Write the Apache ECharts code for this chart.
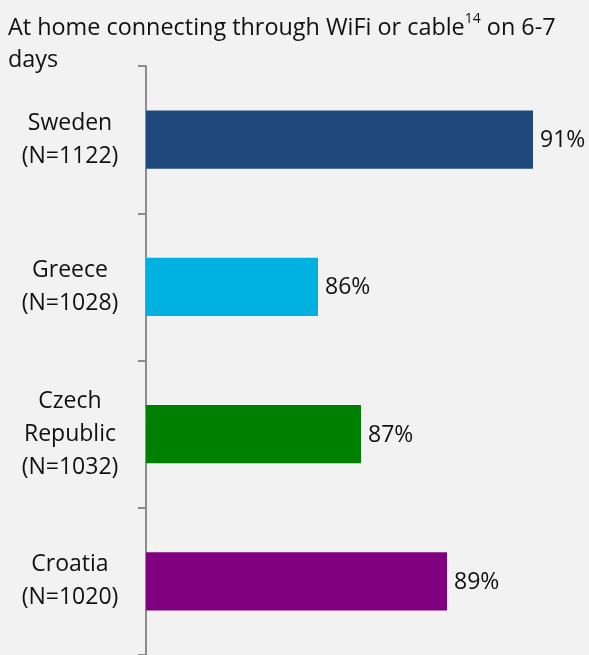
<!DOCTYPE html>
<html>
<head>
<meta charset="utf-8">
<script src="https://cdn.jsdelivr.net/npm/echarts@6/dist/echarts.min.js"></script>
<style>
html,body{margin:0;padding:0;background:#f2f2f2;}
#c{width:589px;height:655px;}
</style>
</head>
<body>
<div id="c"></div>
<script>
const categories = ['Sweden\n(N=1122)', 'Greece\n(N=1028)', 'Czech\nRepublic\n(N=1032)', 'Croatia\n(N=1020)'];
const values = [91, 86, 87, 89];
const colors = ['#1f497d', '#00b0e0', '#008000', '#800080'];

const FONT = 'Open Sans';
const chart = echarts.init(document.getElementById('c'));
chart.setOption({
  backgroundColor: '#f2f2f2',
  animation: false,
  title: {
    left: 3,
    top: 7,
    text: '{t|At home connecting through WiFi or cable}{s|14}{t| on 6-7}\n{t|days}',
    textStyle: {
      fontWeight: 'normal',
      rich: {
        t: {fontFamily: FONT, fontSize: 23.4, fontWeight: 'normal', color: '#111', lineHeight: 32},
        s: {fontFamily: FONT, fontSize: 14, fontWeight: 'normal', color: '#111', lineHeight: 32, verticalAlign: 'top', padding: [0, 0, 9, 0]}
      }
    }
  },
  grid: {left: 146, right: 13, top: 66, height: 591},
  xAxis: {type: 'value', min: 82, max: 92, show: false},
  yAxis: {
    type: 'category',
    inverse: true,
    data: categories,
    axisLine: {show: true, lineStyle: {color: '#8c8c8c', width: 2}},
    axisTick: {show: true, length: 8, lineStyle: {color: '#8c8c8c', width: 2}},
    axisLabel: {
      align: 'center', margin: 76, fontFamily: FONT, fontSize: 23, lineHeight: 33, color: '#111'
    }
  },
  series: [{
    type: 'bar',
    barWidth: '39.5%',
    data: values.map((v, i) => ({value: v, itemStyle: {color: colors[i]}})),
    label: {
      show: true, position: 'right', distance: 7, offset: [0, 1],
      formatter: '{c}%', fontFamily: FONT, fontSize: 23, color: '#111'
    }
  }]
});
</script>
</body>
</html>
